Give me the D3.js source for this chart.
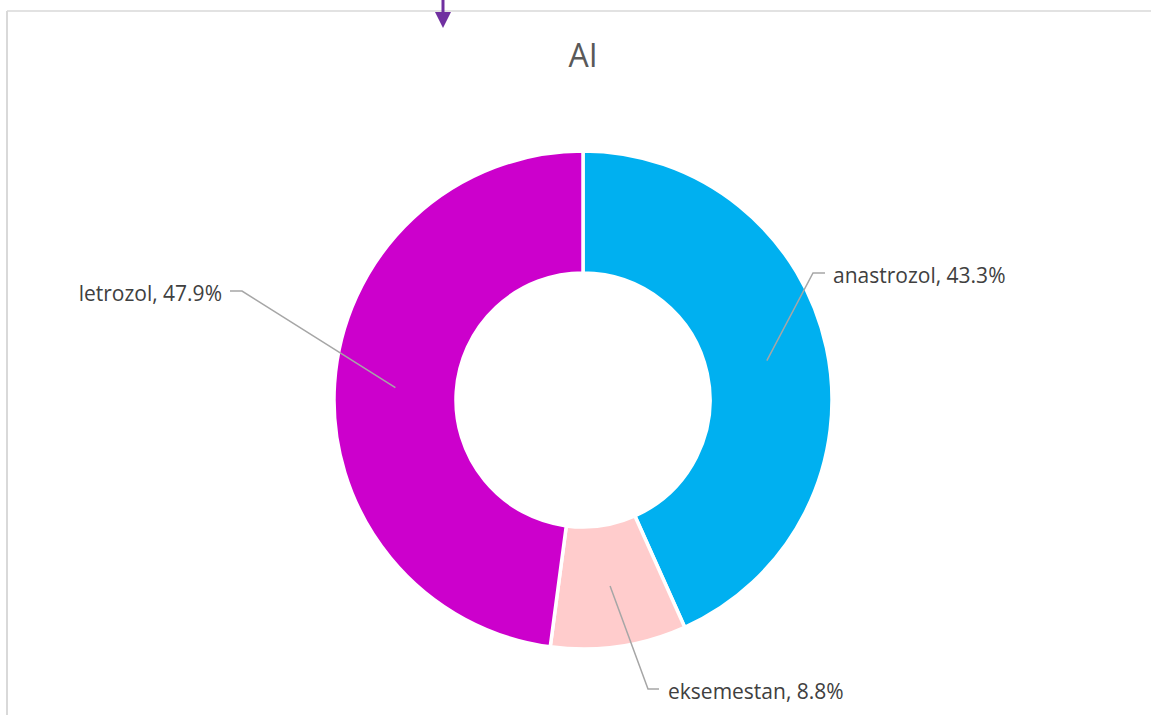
<!DOCTYPE html>
<html>
<head>
<meta charset="utf-8">
<script src="https://cdn.jsdelivr.net/npm/d3@7"></script>
<style>
  html, body { margin: 0; padding: 0; background: #fff; }
  svg { display: block; }
</style>
</head>
<body>
<div id="chart"></div>
<script>
(function () {

    // Veriler
    const categories = ["anastrozol", "eksemestan", "letrozol"];
    const values = [43.3, 8.8, 47.9];
    const colors = ["#00B0F0", "#FFCCCC", "#CC00CC"];

    const width = 1151;
    const height = 715;

    const centerX = 583;
    const centerY = 400;
    const outerRadius = 249;
    const innerRadius = 127;

    // Etiket dirsek noktaları (yerleşim)
    const labelLayout = [
        { elbow: [813, 273], end: [825, 273], anchor: "start", tx: 833, ty: 276 },
        { elbow: [648, 689], end: [659, 689], anchor: "start", tx: 668, ty: 692 },
        { elbow: [242, 291], end: [230, 291], anchor: "end", tx: 222, ty: 294 }
    ];

    const svg = d3.select("#chart")
        .append("svg")
        .attr("width", width)
        .attr("height", height);

    // Çerçeve
    svg.append("line")
        .attr("x1", 7).attr("y1", 11)
        .attr("x2", width).attr("y2", 11)
        .attr("stroke", "#d9d9d9")
        .attr("stroke-width", 1.5);
    svg.append("line")
        .attr("x1", 7).attr("y1", 11)
        .attr("x2", 7).attr("y2", height)
        .attr("stroke", "#d9d9d9")
        .attr("stroke-width", 2);

    // Mor ok
    svg.append("line")
        .attr("x1", 443).attr("y1", 0)
        .attr("x2", 443).attr("y2", 14)
        .attr("stroke", "#7030A0")
        .attr("stroke-width", 3);
    svg.append("path")
        .attr("d", "M435,12 L451,12 L443,28 Z")
        .attr("fill", "#7030A0");

    // Başlık
    svg.append("text")
        .attr("x", centerX)
        .attr("y", 67)
        .attr("text-anchor", "middle")
        .attr("font-family", "'Open Sans', sans-serif")
        .attr("font-size", 32)
        .attr("fill", "#595959")
        .text("AI");

    const pie = d3.pie()
        .sort(null)
        .value(d => d);

    const arcs = pie(values);

    const arc = d3.arc()
        .innerRadius(innerRadius)
        .outerRadius(outerRadius);

    const g = svg.append("g")
        .attr("transform", `translate(${centerX}, ${centerY})`);

    g.selectAll("path")
        .data(arcs)
        .enter()
        .append("path")
        .attr("d", arc)
        .attr("fill", (d, i) => colors[i])
        .attr("stroke", "#fff")
        .attr("stroke-width", 3.5);

    // Etiket çizgileri
    arcs.forEach((d, i) => {
        const c = arc.centroid(d);
        const lay = labelLayout[i];
        const pts = [[centerX + c[0], centerY + c[1]], lay.elbow, lay.end];

        svg.append("path")
            .attr("d", d3.line()(pts))
            .attr("fill", "none")
            .attr("stroke", "#A6A6A6")
            .attr("stroke-width", 1.5);

        svg.append("text")
            .attr("x", lay.tx)
            .attr("y", lay.ty)
            .attr("dy", "0.35em")
            .attr("text-anchor", lay.anchor)
            .attr("font-family", "'Open Sans', sans-serif")
            .attr("font-size", 21)
            .attr("fill", "#404040")
            .text(`${categories[i]}, ${values[i].toFixed(1)}%`);
    });
})();
</script>
</body>
</html>
